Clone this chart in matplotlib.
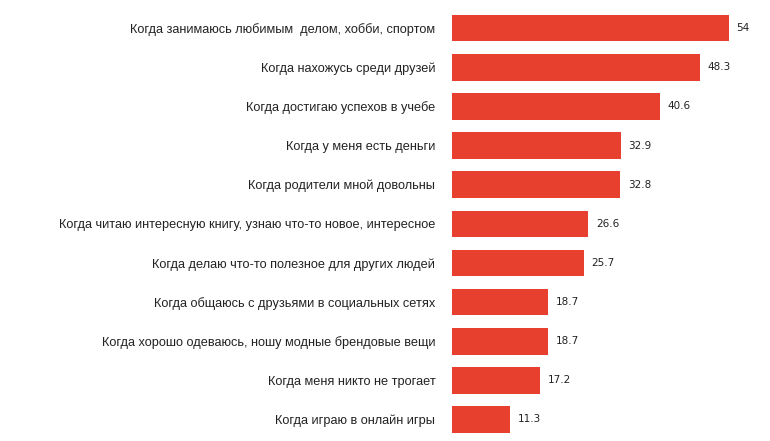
import matplotlib.pyplot as plt

labels = [
    "Когда занимаюсь любимым  делом, хобби, спортом",
    "Когда нахожусь среди друзей",
    "Когда достигаю успехов в учебе",
    "Когда у меня есть деньги",
    "Когда родители мной довольны",
    "Когда читаю интересную книгу, узнаю что-то новое, интересное",
    "Когда делаю что-то полезное для других людей",
    "Когда общаюсь с друзьями в социальных сетях",
    "Когда хорошо одеваюсь, ношу модные брендовые вещи",
    "Когда меня никто не трогает",
    "Когда играю в онлайн игры",
]
values = [54, 48.3, 40.6, 32.9, 32.8, 26.6, 25.7, 18.7, 18.7, 17.2, 11.3]

fig = plt.figure(figsize=(7.7, 4.41), dpi=100)
ax = fig.add_axes([0.587, 0.0, 0.413, 0.985])
pos = list(range(len(values)))
ax.barh(pos, values, height=0.68, color="#E8402F")
ax.set_ylim(len(values) - 0.45, -0.55)
ax.set_xlim(0, 62)
ax.set_yticks(pos)
ax.set_yticklabels(labels, fontsize=9.2, color="#222222", family="Liberation Sans")
ax.tick_params(axis="y", length=0, pad=12)
ax.set_xticks([])
for s in ax.spines.values():
    s.set_visible(False)
for p, v in zip(pos, values):
    ax.text(v + 1.5, p, f"{v:g}", va="center", ha="left", fontsize=7.5, color="#222222")

fig.savefig("out.png", dpi=100)
